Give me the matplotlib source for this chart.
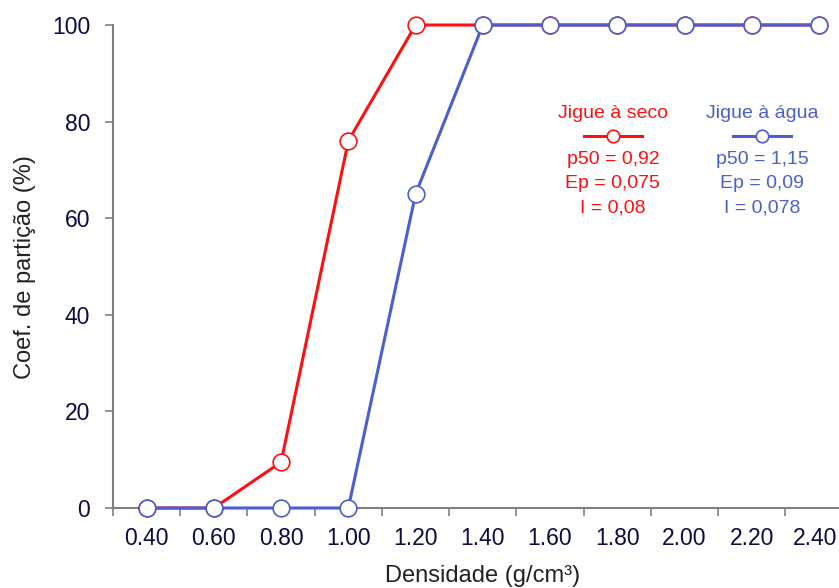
import matplotlib
matplotlib.use("Agg")
import matplotlib.pyplot as plt
import matplotlib.transforms as mtransforms
import numpy as np

plt.rcParams['font.family'] = ['Liberation Sans', 'DejaVu Sans']

# data
dens_labels = ['0.40', '0.60', '0.80', '1.00', '1.20', '1.40', '1.60', '1.80', '2.00', '2.20', '2.40']
seco = [0, 0, 9.5, 76, 100, 100, 100, 100, 100, 100, 100]
agua = [0, 0, 0, 0, 65, 100, 100, 100, 100, 100, 100]
seco_txt = ['p50 = 0,92', 'Ep = 0,075', 'I = 0,08']
agua_txt = ['p50 = 1,15', 'Ep = 0,09', 'I = 0,078']

red = '#ff1010'
blue = '#4c5fcf'
tickcol = '#0c0c40'

W, H = 839, 588
fig = plt.figure(figsize=(W / 100, H / 100), dpi=100)
ax = fig.add_axes([113 / W, (H - 508) / H, (W - 113) / W, 483 / H])

x = np.arange(len(dens_labels))
ax.plot(x, seco, color=red, lw=2.2, marker='o', ms=12, mfc='white', mec=red, mew=1.2, clip_on=False, zorder=3)
ax.plot(x, agua, color=blue, lw=2.2, marker='o', ms=12, mfc='white', mec=blue, mew=1.2, clip_on=False, zorder=4)

ax.set_xlim(-0.5, (W - 147) / 67.2)
ax.set_ylim(0, 100)

# tick marks between the categories, labels on them
ax.set_xticks(np.arange(-0.5, len(dens_labels) - 0.5, 1))
ax.set_xticklabels([])
ax.set_xticks(x, minor=True)
ax.set_xticklabels(dens_labels, minor=True)
ax.tick_params(axis='x', which='major', length=6, width=1.2, color='#808080', direction='out')
ax.tick_params(axis='x', which='minor', length=0, pad=14, labelsize=16.5, labelcolor=tickcol)
ax.set_yticks(np.arange(0, 101, 20))
ax.tick_params(axis='y', length=6, width=1.2, color='#808080', pad=10.5, labelsize=16.5, labelcolor=tickcol)

# last label sits right on the edge, nudge it in a little
last = ax.get_xticklabels(minor=True)[-1]
last.set_transform(last.get_transform() + mtransforms.ScaledTranslation(-4 / 100, 0, fig.dpi_scale_trans))

for s in ['top', 'right']:
    ax.spines[s].set_visible(False)
for s in ['left', 'bottom']:
    ax.spines[s].set_color('#808080')
    ax.spines[s].set_linewidth(1.5)

fig.text(25 / W, 1 - 267 / H, 'Coef. de partição (%)', rotation=90, ha='center', va='center',
         fontsize=17, color='#222222')
fig.text(483 / W, 1 - 576 / H, 'Densidade (g/cm³)', ha='center', va='center', fontsize=17, color='#222222')


# legend-like blocks with the fitted parameters
def blk(px, col, title, lines):
    cx = (px - 147) / 67.2
    ax.text(cx, 100 * (508 - 114) / 483, title, ha='center', va='center', fontsize=14, color=col)
    yl = 100 * (508 - 136) / 483
    ax.plot([cx - 0.43, cx + 0.43], [yl, yl], color=col, lw=2.2, clip_on=False)
    ax.plot([cx], [yl], marker='o', ms=9, mfc='white', mec=col, mew=1.2, clip_on=False)
    for i, t in enumerate(lines):
        yy = 100 * (508 - (160 + 24 * i)) / 483
        ax.text(cx, yy, t, ha='center', va='center', fontsize=14, color=col)


blk(613, red, 'Jigue à seco', seco_txt)
blk(762, blue, 'Jigue à água', agua_txt)

fig.savefig('out.png', dpi=100)
